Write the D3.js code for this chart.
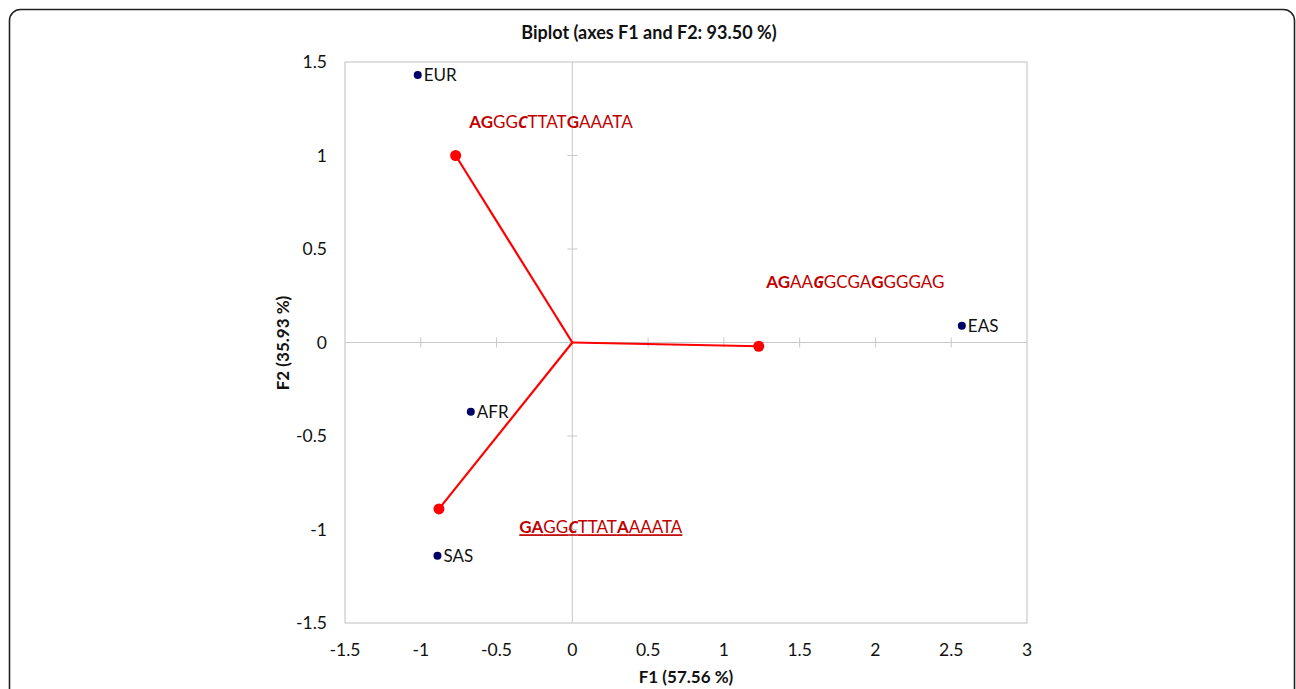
<!DOCTYPE html>
<meta charset="utf-8">
<style>
body{margin:0;background:#fff;}
svg{font-family:Lato,"Open Sans",sans-serif;}
</style>
<body>
<svg width="1296" height="689"></svg>
<script src="https://cdnjs.cloudflare.com/ajax/libs/d3/7.8.5/d3.min.js"></script>
<script>

// observations (populations)
var obsNames = ["EUR","AFR","SAS","EAS"];
var obsF1 = [-1.02,-0.67,-0.89,2.57];
var obsF2 = [1.43,-0.37,-1.14,0.09];

// variables (haplotypes)
var varF1 = [-0.77,1.23,-0.88];
var varF2 = [1.00,-0.02,-0.89];
// label pieces: [text, bold, italic]
var varLabels = [
	[["AG",1,0],["GG",0,0],["C",1,1],["TTAT",0,0],["G",1,0],["AAATA",0,0]],
	[["AG",1,0],["AA",0,0],["G",1,1],["GCGA",0,0],["G",1,0],["GGGAG",0,0]],
	[["GA",1,0],["GG",0,0],["C",1,1],["TTAT",0,0],["A",1,0],["AAATA",0,0]]
];
var varLabelPos = [[-0.68,1.145],[1.28,0.29],[-0.35,-1.02]];
var varUnderline = [false,false,true];

var xTicks = [-1.5,-1,-0.5,0,0.5,1,1.5,2,2.5,3];
var yTicks = [-1.5,-1,-0.5,0,0.5,1,1.5];

var title = "Biplot (axes F1 and F2: 93.50 %)";
var xTitle = "F1 (57.56 %)";
var yTitle = "F2 (35.93 %)";

var svg = d3.select("svg");

svg.append("rect")
	.attr("x",9.5).attr("y",9.5)
	.attr("width",1285).attr("height",720)
	.attr("rx",11)
	.attr("fill","#fff")
	.attr("stroke","#222")
	.attr("stroke-width",1.6);

var x = d3.scaleLinear().domain([-1.5,3]).range([345,1027]);
var y = d3.scaleLinear().domain([-1.5,1.5]).range([623,62]);

// plot frame
svg.append("rect")
	.attr("x",x(-1.5)).attr("y",y(1.5))
	.attr("width",x(3)-x(-1.5)).attr("height",y(-1.5)-y(1.5))
	.attr("fill","none").attr("stroke","#bfbfbf").attr("stroke-width",1);

// zero axes with ticks
var grey = "#c8c8c8";
svg.append("line").attr("x1",x(-1.5)).attr("x2",x(3)).attr("y1",y(0)).attr("y2",y(0))
	.attr("stroke",grey);
svg.append("line").attr("x1",x(0)).attr("x2",x(0)).attr("y1",y(1.5)).attr("y2",y(-1.5))
	.attr("stroke",grey);
svg.selectAll(".xt").data(xTicks.filter(d=>d>-1.5&&d<3&&d!=0)).enter()
	.append("line").attr("class","xt")
	.attr("x1",d=>x(d)).attr("x2",d=>x(d))
	.attr("y1",y(0)-5).attr("y2",y(0)+5).attr("stroke",grey);
svg.selectAll(".yt").data(yTicks.filter(d=>d>-1.5&&d<1.5&&d!=0)).enter()
	.append("line").attr("class","yt")
	.attr("y1",d=>y(d)).attr("y2",d=>y(d))
	.attr("x1",x(0)-5).attr("x2",x(0)+5).attr("stroke",grey);

// tick labels
svg.selectAll(".xl").data(xTicks).enter()
	.append("text").attr("class","xl")
	.attr("x",d=>x(d)).attr("y",656)
	.attr("text-anchor","middle").attr("font-size",17.5).attr("fill","#111")
	.text(d=>d);
svg.selectAll(".yl").data(yTicks).enter()
	.append("text").attr("class","yl")
	.attr("x",327).attr("y",d=>y(d)+6)
	.attr("text-anchor","end").attr("font-size",17.5).attr("fill","#111")
	.text(d=>d);

// titles
svg.append("text").attr("x",649).attr("y",39).attr("text-anchor","middle")
	.attr("font-size",18).attr("font-weight","bold").attr("fill","#111").text(title);
svg.append("text").attr("x",686).attr("y",683).attr("text-anchor","middle")
	.attr("font-size",17).attr("font-weight","bold").attr("fill","#111").text(xTitle);
svg.append("text").attr("transform","translate(289,343) rotate(-90)").attr("text-anchor","middle")
	.attr("font-size",17).attr("font-weight","bold").attr("fill","#111").text(yTitle);

// variable vectors
var red = "#ff0000";
svg.selectAll(".vec").data(varF1).enter()
	.append("line").attr("class","vec")
	.attr("x1",x(0)).attr("y1",y(0))
	.attr("x2",d=>x(d)).attr("y2",(d,i)=>y(varF2[i]))
	.attr("stroke",red).attr("stroke-width",2.2);
svg.selectAll(".vdot").data(varF1).enter()
	.append("circle").attr("class","vdot")
	.attr("cx",d=>x(d)).attr("cy",(d,i)=>y(varF2[i])).attr("r",5.5)
	.attr("fill",red);

var lab = svg.selectAll(".vlab").data(varLabels).enter()
	.append("text").attr("class","vlab")
	.attr("x",(d,i)=>x(varLabelPos[i][0])).attr("y",(d,i)=>y(varLabelPos[i][1]))
	.attr("font-size",17).attr("fill","#c00000")
	.attr("text-decoration",(d,i)=>varUnderline[i]?"underline":null);
lab.selectAll("tspan").data(d=>d).enter()
	.append("tspan")
	.attr("font-weight",d=>d[1]?"bold":"normal")
	.attr("font-style",d=>d[2]?"italic":"normal")
	.attr("font-family",d=>d[2]?"'Open Sans'":null)
	.attr("font-size",d=>d[2]?15.5:null)
	.text(d=>d[0]);

// observations
svg.selectAll(".odot").data(obsNames).enter()
	.append("circle").attr("class","odot")
	.attr("cx",(d,i)=>x(obsF1[i])).attr("cy",(d,i)=>y(obsF2[i])).attr("r",4)
	.attr("fill","#000066");
svg.selectAll(".olab").data(obsNames).enter()
	.append("text").attr("class","olab")
	.attr("x",(d,i)=>x(obsF1[i])+6).attr("y",(d,i)=>y(obsF2[i])+6)
	.attr("font-size",17).attr("fill","#111")
	.text(d=>d);
</script>
